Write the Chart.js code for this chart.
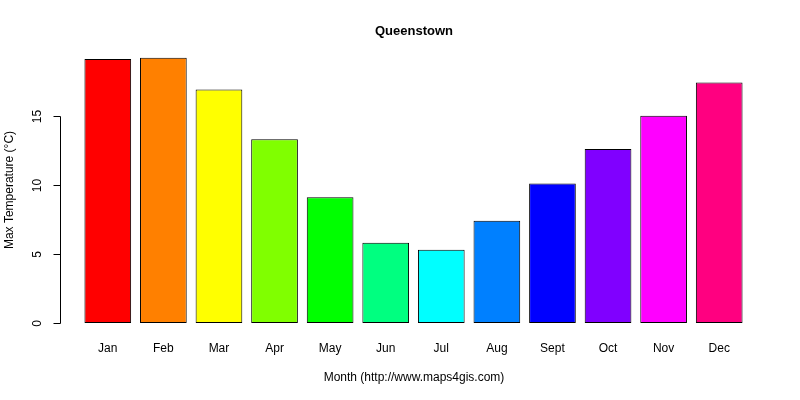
<!DOCTYPE html>
<html><head><meta charset="utf-8">
<script src="https://cdn.jsdelivr.net/npm/chart.js@4"></script>
<style>html,body{margin:0;background:#fff}#w{width:800px;height:400px}</style>
</head><body><div id="w"><canvas id="c"></canvas></div>
<script>
const months = ["Jan","Feb","Mar","Apr","May","Jun","Jul","Aug","Sept","Oct","Nov","Dec"];
const maxTemp = [19.1,19.2,16.9,13.3,9.1,5.8,5.3,7.4,10.1,12.6,15.0,17.4];
const yTicks = [0,5,10,15];
const colors = ["#FF0000","#FF8000","#FFFF00","#80FF00","#00FF00","#00FF80","#00FFFF","#0080FF","#0000FF","#8000FF","#FF00FF","#FF0080"];
const F = '"Liberation Sans", Arial, sans-serif';
const axesPlugin = {
  id:'rAxes',
  afterDraw(ch){
    const c=ch.ctx, y=ch.scales.y, x=ch.scales.x;
    c.save(); c.strokeStyle='#000'; c.fillStyle='#000'; c.lineWidth=1;
    const ax=60.5;
    c.beginPath(); c.moveTo(ax,Math.round(y.getPixelForValue(yTicks[0]))+0.5);
    c.lineTo(ax,Math.round(y.getPixelForValue(yTicks[yTicks.length-1]))+0.5); c.stroke();
    c.font='12px '+F; c.textAlign='center'; c.textBaseline='middle';
    yTicks.forEach(v=>{const p=Math.round(y.getPixelForValue(v))+0.5;
      c.beginPath(); c.moveTo(ax,p); c.lineTo(ax-7,p); c.stroke();
      c.save(); c.translate(38,p); c.rotate(-Math.PI/2); c.fillText(String(v),0,0); c.restore();});
    months.forEach((m,i)=>c.fillText(m,x.getPixelForValue(i),349));
    c.fillText('Month (http://www.maps4gis.com)',414,378);
    c.save(); c.translate(10,190); c.rotate(-Math.PI/2); c.fillText('Max Temperature (°C)',0,0); c.restore();
    c.font='bold 13px '+F; c.fillText('Queenstown',414,31);
    c.restore();
  }
};
new Chart(document.getElementById('c'),{
  type:'bar',
  data:{labels:months,datasets:[{data:maxTemp,backgroundColor:colors,borderColor:'#000',borderWidth:1,borderSkipped:false,barPercentage:0.84,categoryPercentage:1}]},
  options:{responsive:true,maintainAspectRatio:false,animation:false,
    layout:{padding:{left:80,right:53,top:48,bottom:66.5}},
    plugins:{legend:{display:false},tooltip:{enabled:false}},
    scales:{x:{display:false,offset:true},y:{display:false,min:-0.76,max:19.9}}},
  plugins:[axesPlugin]
});
</script></body></html>
